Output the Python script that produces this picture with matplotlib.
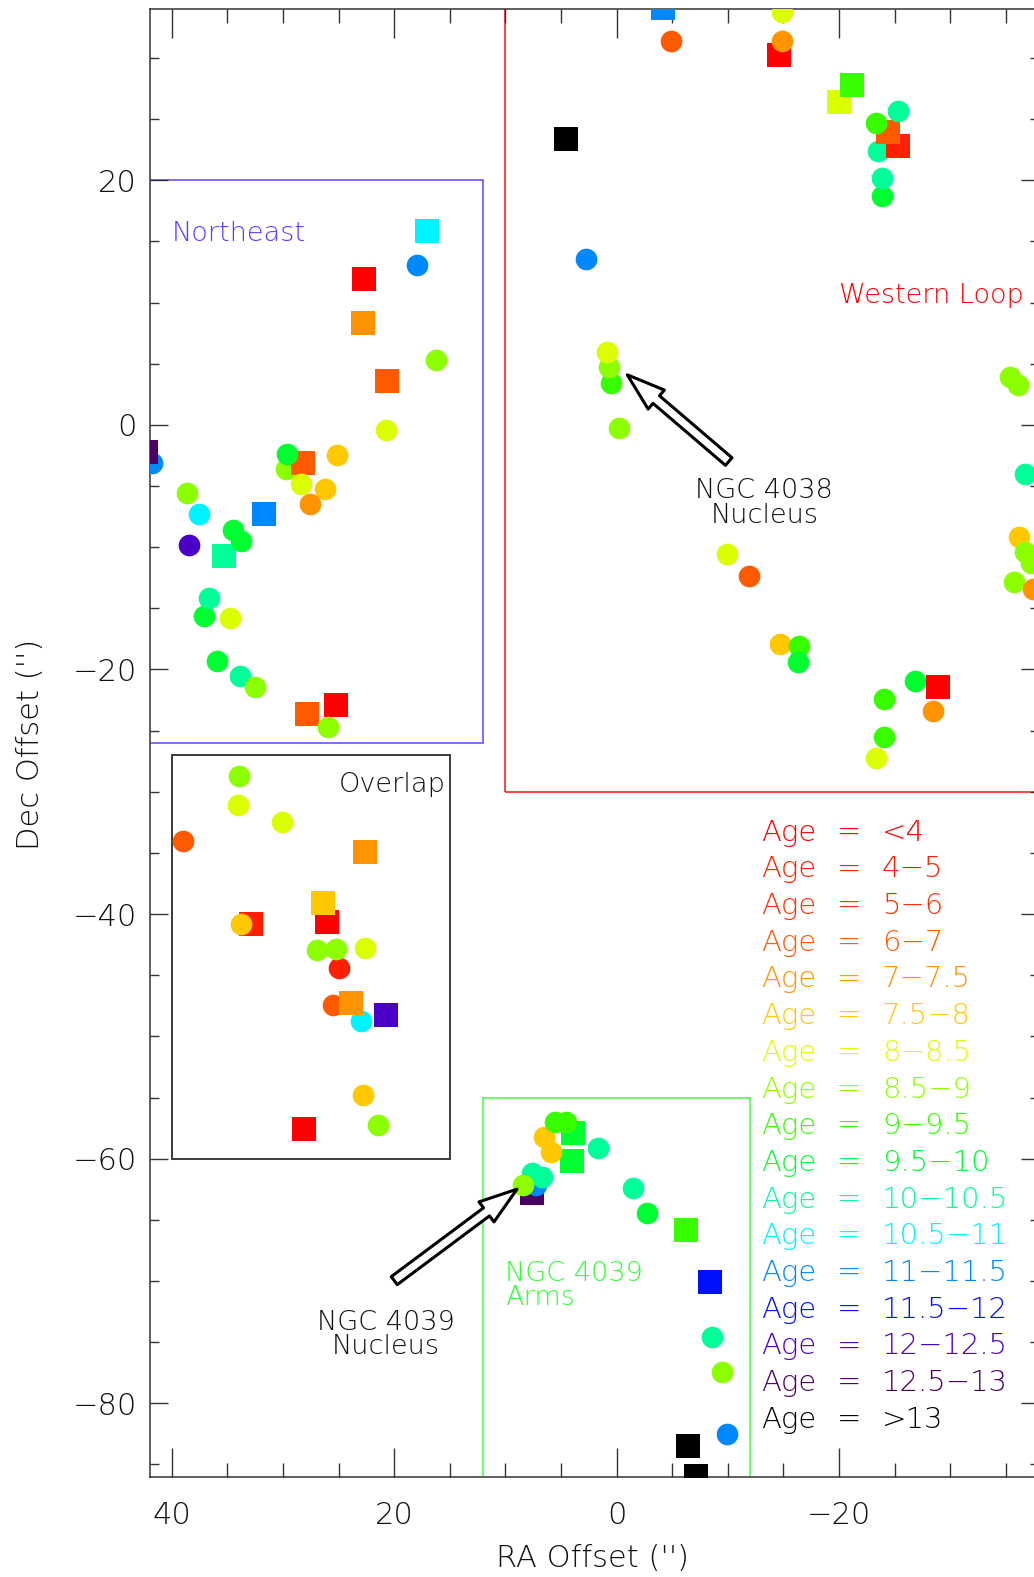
import matplotlib
matplotlib.use("Agg")
import matplotlib.pyplot as plt
from matplotlib import font_manager
from matplotlib.patches import Rectangle
from matplotlib.ticker import MultipleLocator

# Age bins (Gyr) and the colour used for each bin
age_labels = ["<4", "4\u22125", "5\u22126", "6\u22127", "7\u22127.5", "7.5\u22128",
              "8\u22128.5", "8.5\u22129", "9\u22129.5", "9.5\u221210", "10\u221210.5",
              "10.5\u221211", "11\u221211.5", "11.5\u221212", "12\u221212.5",
              "12.5\u221213", ">13"]
age_colors = ["#ff0000", "#ff2000", "#ff3000", "#ff5a00", "#ff9400", "#ffc800",
              "#dcff00", "#8cff00", "#38ff00", "#00ff30", "#00ff98", "#00f4ff",
              "#0088ff", "#0010ff", "#4a00c8", "#4b0063", "#000000"]

# Cluster positions (arcsec offsets), age bin index and marker shape
ra = [41.74, 42.31, 38.62, 37.52, 38.47, 35.27, 34.49, 33.74, 31.67, 29.75,
      28.17, 29.60, 28.37, 25.11, 26.21, 27.54, 20.73, 16.23, 20.61, 22.77,
      22.68, 17.94, 17.01, 37.07, 36.65, 34.78, 35.90, 33.88, 32.48, 27.81,
      25.20, 25.94,
      33.97, 34.04, 30.11, 38.96, 22.59, 26.01, 26.37, 32.90, 33.77, 24.98,
      26.93, 25.22, 22.59, 25.47, 22.98, 23.85, 20.70, 22.77, 21.42, 28.08,
      -4.16, -4.90, -14.92, -14.58, -14.86, -19.97, -21.13, -23.55, -25.27, -24.38,
      -23.37, -25.30, -23.86, -23.89, 4.51, 2.72, 0.49, 0.67, 0.83, -0.24,
      -35.38, -36.11, -36.69, -36.21, -36.69, -37.30, -35.71, -37.46, -9.96, -11.94,
      -14.73, -16.41, -16.36, -26.80, -28.95, -24.07, -28.43, -23.31, -24.01,
      3.88, 3.97, 6.52, 5.89, 5.53, 4.57, 1.64, 7.63, 7.24, 7.63,
      6.73, 8.38, -1.46, -2.72, -6.22, -8.44, -8.56, -9.51, -9.91, -6.46, -7.12]
dec = [-3.08, -2.25, -5.56, -7.25, -9.79, -10.74, -8.61, -9.51, -7.30, -3.62,
       -3.13, -2.35, -4.80, -2.45, -5.26, -6.48, -0.41, 5.29, 3.57, 8.32,
       11.91, 13.06, 15.84, -15.64, -14.17, -15.76, -19.30, -20.50, -21.42, -23.65,
       -22.92, -24.67,
       -28.68, -31.10, -32.49, -34.04, -34.94, -40.66, -39.11, -40.83, -40.83, -44.37,
       -42.90, -42.82, -42.79, -47.42, -48.76, -47.29, -48.27, -54.76, -57.24, -57.59,
       34.10, 31.37, 33.79, 30.23, 31.37, 26.39, 27.78, 22.35, 22.76, 23.93,
       24.67, 25.62, 18.75, 20.17, 23.36, 13.57, 3.41, 4.69, 5.99, -0.27,
       3.95, 3.27, -4.03, -9.18, -10.36, -11.31, -12.81, -13.39, -10.52, -12.35,
       -17.91, -18.07, -19.40, -20.91, -21.45, -22.43, -23.38, -27.20, -25.54,
       -57.91, -60.20, -58.24, -59.42, -56.97, -56.97, -59.14, -62.80, -62.14, -61.18,
       -61.46, -62.14, -62.41, -64.46, -65.85, -70.10, -74.60, -77.43, -82.53, -83.51, -85.98]
age_bin = [12, 15, 7, 11, 14, 10, 9, 9, 12, 7,
           3, 9, 6, 5, 5, 4, 6, 7, 3, 4,
           0, 12, 11, 9, 10, 6, 9, 10, 7, 3,
           0, 7,
           7, 6, 6, 3, 4, 0, 5, 1, 5, 1,
           7, 7, 6, 3, 11, 4, 14, 5, 7, 0,
           12, 3, 6, 0, 4, 6, 8, 10, 1, 3,
           8, 10, 9, 10, 16, 12, 8, 7, 6, 7,
           7, 7, 10, 5, 7, 7, 7, 4, 6, 3,
           5, 8, 9, 9, 0, 8, 4, 6, 8,
           9, 9, 5, 5, 8, 8, 10, 15, 12, 10,
           10, 7, 10, 9, 8, 13, 10, 7, 12, 16, 16]
shape = ["o", "s", "o", "o", "o", "s", "o", "o", "s", "o",
         "s", "o", "o", "o", "o", "o", "o", "o", "s", "s",
         "s", "o", "s", "o", "o", "o", "o", "o", "o", "s",
         "s", "o",
         "o", "o", "o", "o", "s", "s", "s", "s", "o", "o",
         "o", "o", "o", "o", "o", "s", "s", "o", "o", "s",
         "s", "o", "o", "s", "o", "s", "s", "o", "s", "s",
         "o", "o", "o", "o", "s", "o", "o", "o", "o", "o",
         "o", "o", "o", "o", "o", "o", "o", "o", "o", "o",
         "o", "o", "o", "o", "s", "o", "o", "o", "o",
         "s", "s", "o", "o", "o", "o", "o", "s", "o", "o",
         "o", "o", "o", "o", "s", "s", "o", "o", "o", "s", "s"]


def pick_font():
    """Use the extra-light DejaVu cut when it is installed."""
    for f in font_manager.fontManager.ttflist:
        w = f.weight
        if isinstance(w, str):
            w = font_manager.weight_dict.get(w, 400)
        if f.name == "DejaVu Sans" and w <= 250 and f.style == "normal":
            return w
    return 400


WEIGHT = pick_font()
plt.rcParams["font.family"] = ["DejaVu Sans"]
plt.rcParams["font.weight"] = WEIGHT
plt.rcParams["axes.labelweight"] = WEIGHT

TEXT = "#111111"
AXC = "#333333"

fig = plt.figure(figsize=(10.34, 15.77), dpi=100)
ax = fig.add_axes([149.5 / 1034, 100.3 / 1577, 889.6 / 1034, 1467.7 / 1577])
ax.set_xlim(42, -38)
ax.set_ylim(-86, 34)

# Region outlines
regions = [
    ((12, -26), 40, 46, "#5a46ff", 1.1),     # Northeast
    ((10, -30), -50, 80, "#ff1010", 1.1),    # Western Loop
    ((15, -60), 25, 33, "#3a3a3a", 1.4),     # Overlap
    ((-12, -100), 24, 45, "#40ff40", 1.1),   # NGC 4039 arms
]
for (x0, y0), w, h, col, lw in regions:
    ax.add_patch(Rectangle((x0, y0), w, h, fill=False, edgecolor=col,
                           linewidth=lw, zorder=1))

# Clusters, in drawing order
for x, y, b, m in zip(ra, dec, age_bin, shape):
    ax.plot(x, y, marker=m, linestyle="none",
            markersize=15.6 if m == "o" else 16.6,
            markerfacecolor=age_colors[b], markeredgewidth=0, zorder=3)

# Region names
lbl = dict(fontsize=19.5, va="baseline", fontweight=WEIGHT)
ax.text(40, 15, "Northeast", color="#5a3cff", ha="left", **lbl)
ax.text(-20, 10, "Western Loop", color="#ff0000", ha="left", **lbl)
ax.text(25, -30, "Overlap", color=TEXT, ha="left", **lbl)
ax.text(10, -70, "NGC 4039", color="#33ff33", ha="left", **lbl)
ax.text(10, -72, "Arms", color="#33ff33", ha="left", **lbl)
ax.text(-13.3, -6, "NGC 4038", color=TEXT, ha="center", **lbl)
ax.text(-13.3, -8, "Nucleus", color=TEXT, ha="center", **lbl)
ax.text(20.75, -74, "NGC 4039", color=TEXT, ha="center", **lbl)
ax.text(20.75, -76, "Nucleus", color=TEXT, ha="center", **lbl)

# Nucleus pointers
arrow_style = "simple,head_length=1.37,head_width=0.9,tail_width=0.36"
for tip, tail in [((-0.97, 4.09), (-10.09, -3.00)), ((8.95, -62.49), (19.99, -69.97))]:
    ax.annotate("", xy=tip, xytext=tail,
                arrowprops=dict(arrowstyle=arrow_style, facecolor="white",
                                edgecolor="black", linewidth=2.2, shrinkA=0,
                                shrinkB=0, mutation_scale=20),
                zorder=4)

# Age key
key = dict(fontsize=21, va="baseline", fontweight=WEIGHT)
for i, (lab, col) in enumerate(zip(age_labels, age_colors)):
    yb = -34 - 3 * i
    ax.text(-13, yb, "Age", color=col, ha="left", **key)
    ax.text(-20.95, yb, "=", color=col, ha="center", **key)
    ax.text(-23.85, yb, lab, color=col, ha="left", **key)

# Axes styling
ax.xaxis.set_major_locator(MultipleLocator(20))
ax.xaxis.set_minor_locator(MultipleLocator(5))
ax.yaxis.set_major_locator(MultipleLocator(20))
ax.yaxis.set_minor_locator(MultipleLocator(5))
ax.tick_params(which="both", direction="in", top=True, right=True, color=AXC,
               labelcolor=TEXT, labelsize=22)
ax.xaxis.set_tick_params(which="major", length=20.9, width=1.0, pad=17.5)
ax.xaxis.set_tick_params(which="minor", length=10.4, width=1.0)
ax.yaxis.set_tick_params(which="major", length=12.8, width=1.0, pad=9.0)
ax.yaxis.set_tick_params(which="minor", length=6.5, width=1.0)
for s in ax.spines.values():
    s.set_color(AXC)
    s.set_linewidth(1.1)

ax.set_xlabel("RA Offset ('')", fontsize=22, color=TEXT, fontweight=WEIGHT)
ax.xaxis.set_label_coords(0.498, -0.0617)
ax.xaxis.label.set_va("baseline")
ax.set_ylabel("Dec Offset ('')", fontsize=22, color=TEXT, fontweight=WEIGHT)
ax.yaxis.set_label_coords(-0.1343, 0.499)
ax.yaxis.label.set_va("center")
ax.yaxis.label.set_ha("center")

fig.savefig("out.png", dpi=100)
